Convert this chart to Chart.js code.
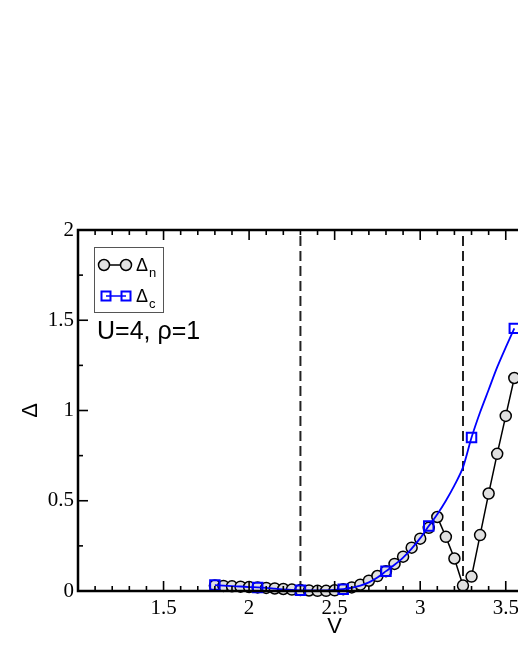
<!DOCTYPE html>
<html>
<head>
<meta charset="utf-8">
<script src="https://cdn.jsdelivr.net/npm/chart.js@4"></script>
<style>
  html, body { margin: 0; padding: 0; background: #fff; overflow: hidden; }
  #wrap { width: 518px; height: 670px; overflow: hidden; }
</style>
</head>
<body>
<div id="wrap"><canvas id="myChart" width="600" height="670"></canvas></div>
<script>
// gap data
const VOLTAGES_N = [1.8, 1.85, 1.9, 1.95, 2.0, 2.05, 2.1, 2.15, 2.2, 2.25,
  2.3, 2.35, 2.4, 2.45, 2.5, 2.55, 2.6, 2.65, 2.7, 2.75, 2.8, 2.85, 2.9,
  2.95, 3.0, 3.05, 3.1, 3.15, 3.2, 3.25, 3.3, 3.35, 3.4, 3.45, 3.5, 3.55];
const DELTA_N = [0.030, 0.028, 0.026, 0.024, 0.022, 0.020, 0.017, 0.014,
  0.011, 0.008, 0.005, 0.003, 0.001, 0.001, 0.004, 0.010, 0.020, 0.035,
  0.057, 0.083, 0.110, 0.150, 0.190, 0.240, 0.290, 0.350, 0.410, 0.300,
  0.180, 0.030, 0.080, 0.310, 0.540, 0.760, 0.970, 1.180];
// the blue curve is read every 0.05, squares sit on every 5th point
const VOLTAGES_C = [1.8, 1.85, 1.9, 1.95, 2.0, 2.05, 2.1, 2.15, 2.2, 2.25,
  2.3, 2.35, 2.4, 2.45, 2.5, 2.55, 2.6, 2.65, 2.7, 2.75, 2.8, 2.85, 2.9,
  2.95, 3.0, 3.05, 3.1, 3.15, 3.2, 3.25, 3.3, 3.35, 3.4, 3.45, 3.5, 3.55];
const DELTA_C = [0.033, 0.030, 0.027, 0.025, 0.022, 0.020, 0.017, 0.013,
  0.009, 0.006, 0.004, 0.003, 0.003, 0.004, 0.006, 0.010, 0.018, 0.030,
  0.048, 0.075, 0.110, 0.145, 0.185, 0.235, 0.293, 0.360, 0.425, 0.500,
  0.585, 0.685, 0.850, 0.990, 1.115, 1.240, 1.350, 1.455];
const SYMBOL_SKIP = 5;
const V_TRANSITIONS = [2.3, 3.25];

const X_MIN = 1;
const X_MAX = 4;
const Y_MIN = 0;
const Y_MAX = 2;
const X_TICK_LABELS = [1.5, 2, 2.5, 3, 3.5];

const COLOR_N = '#000000';
const COLOR_C = '#0000ff';
const SERIF = '"Liberation Serif", "DejaVu Serif", serif';
const SANS = '"Liberation Sans", Arial, sans-serif';

/**
 * Pairs two arrays into {x, y} points.
 */
function toPoints(xs, ys) {
  return xs.map((x, i) => ({x: x, y: ys[i]}));
}

const transitionSets = V_TRANSITIONS.map((v) => ({
  label: 'transition',
  data: [{x: v, y: Y_MIN}, {x: v, y: Y_MAX}],
  borderColor: '#222',
  borderWidth: 2,
  borderDash: [10, 5],
  pointRadius: 0,
  order: 3,
}));

/**
 * Strokes one short segment.
 */
function seg(ctx, x0, y0, x1, y1) {
  ctx.beginPath();
  ctx.moveTo(x0, y0);
  ctx.lineTo(x1, y1);
  ctx.stroke();
}

// inward ticks + frame, xmgrace style
const framePlugin = {
  id: 'graceFrame',
  afterDraw(chart) {
    const {ctx, chartArea: a} = chart;
    const xs = chart.scales.x;
    const ys = chart.scales.y;
    ctx.save();
    ctx.setLineDash([]);
    ctx.globalAlpha = 1;
    ctx.strokeStyle = '#000000';
    ctx.lineCap = 'butt';
    ctx.lineWidth = 1.6;
    for (let i = 0; i <= 30; i++) {
      const px = xs.getPixelForValue(X_MIN + i * 0.1);
      const len = i % 5 === 0 ? 10 : 5;
      seg(ctx, px, a.bottom, px, a.bottom - len);
      seg(ctx, px, a.top, px, a.top + len);
    }
    for (let i = 0; i <= 8; i++) {
      const py = ys.getPixelForValue(Y_MIN + i * 0.25);
      const len = i % 2 === 0 ? 10 : 5;
      seg(ctx, a.left, py, a.left + len, py);
      seg(ctx, a.right, py, a.right - len, py);
    }
    ctx.lineWidth = 2.5;
    ctx.strokeRect(a.left, a.top, a.right - a.left, a.bottom - a.top);
    ctx.restore();
  },
};

/**
 * Writes Δ with a subscript at the given baseline.
 */
function drawDelta(ctx, sub, x, base) {
  ctx.font = '18px ' + SANS;
  ctx.fillText('Δ', x, base);
  const w = ctx.measureText('Δ').width;
  ctx.font = '13px ' + SANS;
  ctx.fillText(sub, x + w + 1, base + 6);
}

const legendPlugin = {
  id: 'gapLegend',
  afterDraw(chart) {
    const {ctx, chartArea: a} = chart;
    const bx = a.left + 16;
    const by = a.top + 17;
    ctx.save();
    ctx.setLineDash([]);
    ctx.fillStyle = '#fff';
    ctx.fillRect(bx, by, 69, 65);
    ctx.strokeStyle = '#555';
    ctx.lineWidth = 1;
    ctx.strokeRect(bx + 0.5, by + 0.5, 69, 65);

    // row 1: circles
    let ry = by + 18;
    ctx.strokeStyle = COLOR_N;
    ctx.lineWidth = 1.5;
    seg(ctx, bx + 10, ry, bx + 32, ry);
    [bx + 10, bx + 32].forEach((cx) => {
      ctx.beginPath();
      ctx.arc(cx, ry, 5.5, 0, Math.PI * 2);
      ctx.fillStyle = '#e0e0e0';
      ctx.fill();
      ctx.stroke();
    });
    ctx.fillStyle = '#000';
    ctx.textBaseline = 'alphabetic';
    drawDelta(ctx, 'n', bx + 42, ry + 6);

    // row 2: squares
    ry = by + 49;
    ctx.strokeStyle = COLOR_C;
    seg(ctx, bx + 12, ry, bx + 32, ry);
    ctx.lineWidth = 2;
    [bx + 12, bx + 32].forEach((cx) => {
      ctx.strokeRect(cx - 4.5, ry - 4.5, 9, 9);
    });
    ctx.fillStyle = '#000';
    drawDelta(ctx, 'c', bx + 42, ry + 6);

    ctx.font = '25px ' + SANS;
    ctx.fillText('U=4, ρ=1', a.left + 19, a.top + 109);
    ctx.restore();
  },
};

const chart = new Chart(document.getElementById('myChart'), {
  type: 'line',
  data: {
    datasets: [
      {
        label: 'Δc',
        data: toPoints(VOLTAGES_C, DELTA_C),
        borderColor: COLOR_C,
        borderWidth: 1.8,
        tension: 0.3,
        pointStyle: 'rect',
        pointRadius: (c) => (c.dataIndex % SYMBOL_SKIP === 0 ? 6.7 : 0),
        pointBorderWidth: 2,
        pointBorderColor: COLOR_C,
        pointBackgroundColor: 'rgba(255,255,255,0)',
        clip: false,
        order: 1,
      },
      {
        label: 'Δn',
        data: toPoints(VOLTAGES_N, DELTA_N),
        borderColor: COLOR_N,
        borderWidth: 1.5,
        tension: 0,
        pointStyle: 'circle',
        pointRadius: 5.5,
        pointBorderWidth: 1.5,
        pointBorderColor: COLOR_N,
        pointBackgroundColor: '#e0e0e0',
        clip: false,
        order: 2,
      },
      ...transitionSets,
    ],
  },
  options: {
    responsive: false,
    animation: false,
    events: [],
    layout: {padding: {top: 230, left: 0, right: 6, bottom: 0}},
    plugins: {legend: {display: false}, tooltip: {enabled: false}},
    scales: {
      x: {
        type: 'linear',
        min: X_MIN,
        max: X_MAX,
        grid: {display: false, drawTicks: false},
        border: {display: false},
        afterFit: (s) => { s.height = 79; },
        afterBuildTicks: (s) => {
          s.ticks = X_TICK_LABELS.map((v) => ({value: v}));
        },
        ticks: {
          padding: 5,
          color: '#000',
          font: {family: SERIF, size: 21},
          callback: (v) => String(v),
        },
        title: {
          display: true,
          text: 'V',
          color: '#000',
          padding: {top: 0, bottom: 30},
          font: {family: SANS, size: 22},
        },
      },
      y: {
        type: 'linear',
        min: Y_MIN,
        max: Y_MAX,
        grid: {display: false, drawTicks: false},
        border: {display: false},
        afterFit: (s) => { s.width = 78; },
        ticks: {
          stepSize: 0.5,
          padding: 4,
          color: '#000',
          font: {family: SERIF, size: 21},
          callback: (v) => String(v),
        },
        title: {
          display: true,
          text: 'Δ',
          color: '#000',
          padding: {top: 18, bottom: 0},
          font: {family: SANS, size: 22},
        },
      },
    },
  },
  plugins: [framePlugin, legendPlugin],
});
</script>
</body>
</html>
